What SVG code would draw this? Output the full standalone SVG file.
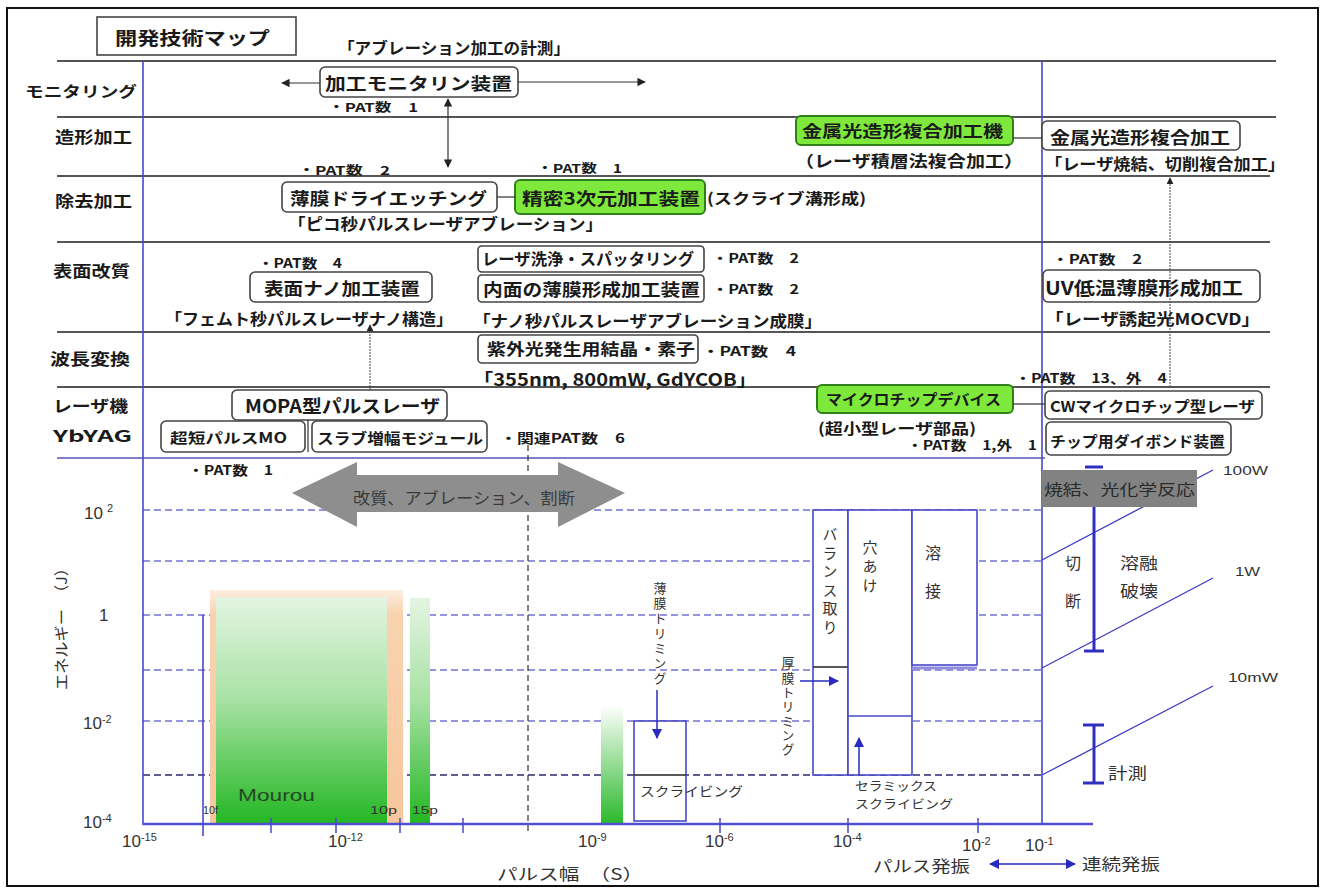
<svg xmlns="http://www.w3.org/2000/svg" width="1326" height="892" viewBox="0 0 1326 892">
<style>
.t{font-family:"Noto Sans CJK JP","Noto Sans CJK SC",sans-serif;font-weight:700;fill:#1a1a1a;dominant-baseline:central}
.n{font-family:"Noto Sans CJK JP","Noto Sans CJK SC",sans-serif;font-weight:400;fill:#333;dominant-baseline:central}
.l{font-family:"Liberation Sans","Noto Sans CJK JP",sans-serif;font-weight:400;fill:#333;dominant-baseline:central}
.ax{font-family:"Liberation Sans",sans-serif;font-weight:400;fill:#333;font-size:17px}
.sup{font-size:11px}
.v{writing-mode:vertical-rl}
.sep{stroke:#555;stroke-width:2}
.box{fill:#fff;stroke:#444;stroke-width:1.6}
.gbox{fill:#7ee83c;stroke:#2f7f1a;stroke-width:2}
.grid{stroke:#7373d3;stroke-width:1.3;stroke-dasharray:7 4}
.blue{stroke:#4848c8;stroke-width:1.6;fill:none}
.bl{stroke:#3a3ac4;stroke-width:1.3;fill:none}
.thin{stroke:#333;stroke-width:1.2;fill:none}
.cb{fill:#fff;stroke:#4848c8;stroke-width:1.6}
</style>
<defs>
<marker id="ah" viewBox="0 0 10 10" refX="9" refY="5" markerWidth="7" markerHeight="7" orient="auto-start-reverse"><path d="M0,0 L10,5 L0,10 z" fill="#222"/></marker>
<marker id="ahb" viewBox="0 0 10 10" refX="9" refY="5" markerWidth="7" markerHeight="7" orient="auto-start-reverse"><path d="M0,0 L10,5 L0,10 z" fill="#2a2ac0"/></marker>
<linearGradient id="gMain" x1="0" y1="0" x2="0" y2="1"><stop offset="0" stop-color="#e4f4e2"/><stop offset="0.45" stop-color="#a8e2a4"/><stop offset="1" stop-color="#22b622"/></linearGradient>
<linearGradient id="gPeach" x1="0" y1="0" x2="0" y2="1"><stop offset="0" stop-color="#fdeee0"/><stop offset="0.1" stop-color="#f9d3b0"/><stop offset="1" stop-color="#f7c69c"/></linearGradient>
<linearGradient id="gBar3" x1="0" y1="0" x2="0" y2="1"><stop offset="0" stop-color="#ffffff"/><stop offset="1" stop-color="#28b828"/></linearGradient>
</defs>
<rect width="1326" height="892" fill="#fff"/>
<rect x="7" y="8" width="1311" height="878" fill="none" stroke="#111" stroke-width="2"/>

<!-- row separators -->
<g id="rows">
<line class="sep" x1="57" y1="61" x2="1276" y2="61"/>
<line class="sep" x1="57" y1="117" x2="1276" y2="117"/>
<line class="sep" x1="57" y1="176" x2="1270" y2="176"/>
<line class="sep" x1="57" y1="242" x2="1270" y2="242"/>
<line class="sep" x1="57" y1="332" x2="1270" y2="332"/>
<line class="sep" x1="57" y1="387" x2="1270" y2="387"/>
<line x1="57" y1="458" x2="1045" y2="458" stroke="#8080c8" stroke-width="2.2"/>
</g>

<g id="title"><rect x="97" y="17" width="199" height="38" fill="#fff" stroke="#444" stroke-width="1.6"/>
<text class="t" x="115" y="37" font-size="18" textLength="155" lengthAdjust="spacingAndGlyphs">開発技術マップ</text></g>

<g id="rowlabels">
<text class="t" x="25" y="90" font-size="15" textLength="112" lengthAdjust="spacingAndGlyphs">モニタリング</text>
<text class="t" x="55" y="136" font-size="16" textLength="77" lengthAdjust="spacingAndGlyphs">造形加工</text>
<text class="t" x="55" y="200" font-size="16" textLength="77" lengthAdjust="spacingAndGlyphs">除去加工</text>
<text class="t" x="53" y="270" font-size="16" textLength="77" lengthAdjust="spacingAndGlyphs">表面改質</text>
<text class="t" x="50" y="358" font-size="16" textLength="80" lengthAdjust="spacingAndGlyphs">波長変換</text>
<text class="t" x="53" y="405" font-size="16" textLength="75" lengthAdjust="spacingAndGlyphs">レーザ機</text>
<text class="t" x="53" y="435" font-size="16" textLength="79" lengthAdjust="spacingAndGlyphs">YbYAG</text>
</g>

<!-- chart grid -->
<g id="grid">
<line class="grid" x1="143" y1="510" x2="1042" y2="510"/>
<line class="grid" x1="143" y1="561" x2="1042" y2="561"/>
<line class="grid" x1="143" y1="615" x2="1042" y2="615"/>
<line class="grid" x1="143" y1="670" x2="1042" y2="670"/>
<line class="grid" x1="143" y1="721" x2="1042" y2="721"/>
<line x1="143" y1="775" x2="1042" y2="775" stroke="#2a2a70" stroke-width="1.3" stroke-dasharray="7 4"/>
<line x1="528" y1="445" x2="528" y2="832" stroke="#333" stroke-width="1.2" stroke-dasharray="6 4"/>
</g>

<!-- bars -->
<g id="bars">
<rect x="210" y="590" width="193" height="235" fill="url(#gPeach)"/>
<rect x="216" y="597" width="171" height="228" fill="url(#gMain)"/>
<rect x="410" y="598" width="20" height="227" fill="url(#gMain)"/>
<rect x="601" y="705" width="22" height="120" fill="url(#gBar3)"/>
<text class="l" x="238" y="795" font-size="17" style="fill:#234a23" textLength="77" lengthAdjust="spacingAndGlyphs">Mourou</text>
<text class="l" x="203" y="810" font-size="11" textLength="15" lengthAdjust="spacingAndGlyphs">10f</text>
<text class="l" x="370" y="810" font-size="11" textLength="27" lengthAdjust="spacingAndGlyphs">10p</text>
<text class="l" x="412" y="810" font-size="11" textLength="26" lengthAdjust="spacingAndGlyphs">15p</text>
</g>

<!-- axes -->
<g id="axes">
<line class="blue" x1="143" y1="61" x2="143" y2="825"/>
<line class="blue" x1="1042" y1="61" x2="1042" y2="825"/>
<line x1="143" y1="824" x2="1093" y2="824" stroke="#5050d0" stroke-width="2.5"/>
<line class="blue" x1="203" y1="615" x2="203" y2="836"/>
<g stroke="#4848c8" stroke-width="1.5">
<line x1="271" y1="818" x2="271" y2="833"/><line x1="336" y1="818" x2="336" y2="833"/><line x1="400" y1="818" x2="400" y2="833"/><line x1="463" y1="818" x2="463" y2="833"/><line x1="720" y1="818" x2="720" y2="833"/><line x1="848" y1="818" x2="848" y2="833"/><line x1="978" y1="818" x2="978" y2="833"/>
</g>
<text class="ax" x="84" y="519">10<tspan class="sup" dx="4" dy="-7">2</tspan></text>
<text class="ax" x="99" y="621">1</text>
<text class="ax" x="83" y="729">10<tspan class="sup" dy="-6">-2</tspan></text>
<text class="ax" x="83" y="828">10<tspan class="sup" dy="-6">-4</tspan></text>
<text class="ax" x="122" y="847">10<tspan class="sup" dy="-6">-15</tspan></text>
<text class="ax" x="328" y="847">10<tspan class="sup" dy="-6">-12</tspan></text>
<text class="ax" x="578" y="847">10<tspan class="sup" dy="-6">-9</tspan></text>
<text class="ax" x="705" y="847">10<tspan class="sup" dy="-6">-6</tspan></text>
<text class="ax" x="833" y="847">10<tspan class="sup" dy="-6">-4</tspan></text>
<text class="ax" x="962" y="851">10<tspan class="sup" dy="-6">-2</tspan></text>
<text class="ax" x="1025" y="851">10<tspan class="sup" dy="-6">-1</tspan></text>
<text class="n" transform="translate(60,690) rotate(-90)" x="0" y="0" font-size="15" textLength="130" lengthAdjust="spacingAndGlyphs">エネルギー　（J）</text>
<text class="n" x="497" y="873" font-size="16" textLength="146" lengthAdjust="spacingAndGlyphs">パルス幅　（S）</text>
<text class="n" x="873" y="865" font-size="16" textLength="97" lengthAdjust="spacingAndGlyphs">パルス発振</text>
<text class="n" x="1082" y="863" font-size="16" textLength="78" lengthAdjust="spacingAndGlyphs">連続発振</text>
</g>

<!-- top nodes -->
<g id="n-abl"><text class="t" x="338" y="47" font-size="16" textLength="232" lengthAdjust="spacingAndGlyphs">「アブレーション加工の計測」</text></g>
<g id="n-mon"><rect class="box" x="320" y="67" width="198" height="30" rx="5"/>
<text class="t" x="325" y="82" font-size="17" textLength="187" lengthAdjust="spacingAndGlyphs">加工モニタリン装置</text>
<text class="t" x="328" y="106" font-size="12" textLength="90" lengthAdjust="spacingAndGlyphs">・PAT数　1</text></g>

<g id="n-dry"><rect class="box" x="282" y="182" width="215" height="30" rx="5"/>
<text class="t" x="290" y="197" font-size="17" textLength="197" lengthAdjust="spacingAndGlyphs">薄膜ドライエッチング</text>
<text class="t" x="298" y="169" font-size="12" textLength="92" lengthAdjust="spacingAndGlyphs">・PAT数　2</text>
<text class="t" x="288" y="223" font-size="16" textLength="315" lengthAdjust="spacingAndGlyphs">「ピコ秒パルスレーザアブレーション」</text></g>

<g id="n-3d"><rect class="gbox" x="515" y="180" width="190" height="34" rx="5"/>
<text class="t" x="522" y="197" font-size="17" textLength="178" lengthAdjust="spacingAndGlyphs">精密3次元加工装置</text>
<text class="t" x="537" y="167" font-size="12" textLength="85" lengthAdjust="spacingAndGlyphs">・PAT数　1</text>
<text class="t" x="707" y="197" font-size="15" textLength="159" lengthAdjust="spacingAndGlyphs">(スクライブ溝形成)</text></g>

<g id="n-metal"><rect class="gbox" x="796" y="116" width="217" height="29" rx="5"/>
<text class="t" x="802" y="130" font-size="16" textLength="201" lengthAdjust="spacingAndGlyphs">金属光造形複合加工機</text>
<text class="t" x="795" y="160" font-size="16" textLength="228" lengthAdjust="spacingAndGlyphs">（レーザ積層法複合加工）</text></g>

<g id="n-metal2"><rect class="box" x="1042" y="121" width="198" height="29" rx="5"/>
<text class="t" x="1050" y="136" font-size="17" textLength="180" lengthAdjust="spacingAndGlyphs">金属光造形複合加工</text>
<text class="t" x="1045" y="163" font-size="16" textLength="240" lengthAdjust="spacingAndGlyphs">「レーザ焼結、切削複合加工」</text></g>

<g id="n-nano"><rect class="box" x="250" y="272" width="182" height="30" rx="5"/>
<text class="t" x="264" y="287" font-size="17" textLength="156" lengthAdjust="spacingAndGlyphs">表面ナノ加工装置</text>
<text class="t" x="258" y="262" font-size="13" textLength="84" lengthAdjust="spacingAndGlyphs">・PAT数　4</text>
<text class="t" x="165" y="318" font-size="16" textLength="288" lengthAdjust="spacingAndGlyphs">「フェムト秒パルスレーザナノ構造」</text></g>

<g id="n-clean"><rect class="box" x="478" y="246" width="226" height="26" rx="4"/>
<text class="t" x="482" y="258" font-size="16" textLength="212" lengthAdjust="spacingAndGlyphs">レーザ洗浄・スパッタリング</text>
<text class="t" x="712" y="257" font-size="13" textLength="87" lengthAdjust="spacingAndGlyphs">・PAT数　2</text></g>

<g id="n-inner"><rect class="box" x="478" y="275" width="226" height="27" rx="4"/>
<text class="t" x="483" y="288" font-size="17" textLength="217" lengthAdjust="spacingAndGlyphs">内面の薄膜形成加工装置</text>
<text class="t" x="712" y="288" font-size="13" textLength="87" lengthAdjust="spacingAndGlyphs">・PAT数　2</text>
<text class="t" x="473" y="320" font-size="16" textLength="349" lengthAdjust="spacingAndGlyphs">「ナノ秒パルスレーザアブレーション成膜」</text></g>

<g id="n-uv"><rect class="box" x="478" y="335" width="220" height="28" rx="4"/>
<text class="t" x="487" y="348" font-size="16" textLength="208" lengthAdjust="spacingAndGlyphs">紫外光発生用結晶・素子</text>
<text class="t" x="702" y="350" font-size="13" textLength="94" lengthAdjust="spacingAndGlyphs">・PAT数　4</text>
<text class="t" x="473" y="378" font-size="17" textLength="284" lengthAdjust="spacingAndGlyphs">「355nm, 800mW, GdYCOB」</text></g>

<g id="n-uvlow"><rect class="box" x="1043" y="270" width="217" height="32" rx="5"/>
<text class="t" x="1045" y="287" font-size="18" textLength="198" lengthAdjust="spacingAndGlyphs">UV低温薄膜形成加工</text>
<text class="t" x="1052" y="258" font-size="13" textLength="90" lengthAdjust="spacingAndGlyphs">・PAT数　2</text>
<text class="t" x="1045" y="318" font-size="16" textLength="215" lengthAdjust="spacingAndGlyphs">「レーザ誘起光MOCVD」</text></g>

<g id="n-mopa"><rect class="box" x="232" y="390" width="215" height="30" rx="5"/>
<text class="t" x="245" y="405" font-size="18" textLength="195" lengthAdjust="spacingAndGlyphs">MOPA型パルスレーザ</text></g>
<g id="n-mo"><rect class="box" x="161" y="421" width="144" height="31" rx="5"/>
<text class="t" x="170" y="437" font-size="14" textLength="117" lengthAdjust="spacingAndGlyphs">超短パルスMO</text>
<text class="t" x="188" y="469" font-size="13" textLength="85" lengthAdjust="spacingAndGlyphs">・PAT数　1</text></g>
<g id="n-slab"><rect class="box" x="312" y="421" width="175" height="31" rx="5"/>
<text class="t" x="317" y="437" font-size="15" textLength="166" lengthAdjust="spacingAndGlyphs">スラブ増幅モジュール</text>
<text class="t" x="500" y="437" font-size="13" textLength="125" lengthAdjust="spacingAndGlyphs">・関連PAT数　6</text></g>

<g id="n-micro"><rect class="gbox" x="817" y="385" width="196" height="28" rx="5"/>
<text class="t" x="826" y="398" font-size="15" textLength="175" lengthAdjust="spacingAndGlyphs">マイクロチップデバイス</text>
<text class="t" x="818" y="427" font-size="15" textLength="158" lengthAdjust="spacingAndGlyphs">(超小型レーザ部品)</text>
<text class="t" x="907" y="444" font-size="13" textLength="130" lengthAdjust="spacingAndGlyphs">・PAT数　1,外　1</text>
<text class="t" x="1015" y="377" font-size="13" textLength="152" lengthAdjust="spacingAndGlyphs">・PAT数　13、外　4</text></g>

<g id="n-cw"><rect class="box" x="1045" y="391" width="217" height="28" rx="5"/>
<text class="t" x="1050" y="405" font-size="15" textLength="205" lengthAdjust="spacingAndGlyphs">CWマイクロチップ型レーザ</text></g>
<g id="n-bond"><rect class="box" x="1046" y="422" width="185" height="33" rx="5"/>
<text class="t" x="1050" y="440" font-size="15" textLength="175" lengthAdjust="spacingAndGlyphs">チップ用ダイボンド装置</text></g>

<!-- chart nodes -->
<g id="n-arrow">
<polygon points="292,493 357,462 357,475 558,475 558,462 625,493 558,527 558,512 357,512 357,527" fill="#8e8e8e"/>
<text class="n" x="353" y="497" font-size="16" textLength="222" lengthAdjust="spacingAndGlyphs" style="fill:#3a3a3a">改質、アブレーション、割断</text>
</g>

<g id="n-scribe"><rect class="cb" x="634" y="721" width="52" height="100"/>
<line x1="634" y1="775" x2="686" y2="775" stroke="#222" stroke-width="1.3"/>
<text class="n" x="640" y="790" font-size="13" textLength="103" lengthAdjust="spacingAndGlyphs">スクライビング</text>
<text class="n v" x="660" y="582" font-size="13" letter-spacing="2">薄膜トリミング</text></g>

<g id="n-balance"><rect class="cb" x="813" y="510" width="35" height="265"/>
<line x1="813" y1="667" x2="848" y2="667" stroke="#222" stroke-width="1.3"/>
<text class="n v" x="830" y="527" font-size="15" letter-spacing="3.5">バランス取り</text>
<text class="n v" x="788" y="657" font-size="13" letter-spacing="1.3">厚膜トリミング</text></g>

<g id="n-hole"><rect class="cb" x="848" y="510" width="64" height="265"/>
<line x1="848" y1="716" x2="912" y2="716" stroke="#4848c8" stroke-width="1.4"/>
<text class="n v" x="870" y="540" font-size="15" letter-spacing="4">穴あけ</text>
<text class="n" x="855" y="785" font-size="12" textLength="82" lengthAdjust="spacingAndGlyphs">セラミックス</text>
<text class="n" x="855" y="803" font-size="12" textLength="98" lengthAdjust="spacingAndGlyphs">スクライビング</text></g>

<g id="n-weld"><rect class="cb" x="912" y="510" width="65" height="155"/>
<line x1="912" y1="668" x2="977" y2="668" stroke="#8f8fe0" stroke-width="3"/>
<text class="n" x="933" y="552" font-size="16" text-anchor="middle">溶</text>
<text class="n" x="933" y="590" font-size="16" text-anchor="middle">接</text></g>

<g id="n-power">
<line class="bl" x1="1042" y1="560" x2="1213" y2="470"/>
<line class="bl" x1="1042" y1="668" x2="1213" y2="578"/>
<line class="bl" x1="1042" y1="775" x2="1213" y2="686"/>
<rect x="1042" y="470" width="155" height="37" fill="#828282"/>
<text class="n" x="1044" y="488" font-size="15" textLength="151" lengthAdjust="spacingAndGlyphs" style="fill:#2a2a2a">焼結、光化学反応</text>
<text class="l" x="1223" y="470" font-size="13" textLength="45" lengthAdjust="spacingAndGlyphs">100W</text>
<text class="l" x="1235" y="572" font-size="12" textLength="25" lengthAdjust="spacingAndGlyphs">1W</text>
<text class="l" x="1228" y="678" font-size="12" textLength="50" lengthAdjust="spacingAndGlyphs">10mW</text>
<g stroke="#3030c0" stroke-width="3">
<line x1="1094" y1="507" x2="1094" y2="651"/>
<line x1="1085" y1="467" x2="1103" y2="467"/>
<line x1="1084" y1="651" x2="1104" y2="651"/>
<line x1="1094" y1="725" x2="1094" y2="783"/>
<line x1="1083" y1="725" x2="1104" y2="725"/>
<line x1="1083" y1="783" x2="1104" y2="783"/>
</g>
<text class="n" x="1073" y="562" font-size="16" text-anchor="middle">切</text>
<text class="n" x="1073" y="600" font-size="16" text-anchor="middle">断</text>
<text class="n" x="1120" y="562" font-size="16" textLength="38" lengthAdjust="spacingAndGlyphs">溶融</text>
<text class="n" x="1120" y="590" font-size="16" textLength="38" lengthAdjust="spacingAndGlyphs">破壊</text>
<text class="n" x="1108" y="772" font-size="16" textLength="39" lengthAdjust="spacingAndGlyphs">計測</text>
</g>

<!-- connectors -->
<g id="connectors">
<line class="thin" x1="320" y1="83" x2="282" y2="83" marker-end="url(#ah)"/>
<line class="thin" x1="518" y1="82" x2="645" y2="82" marker-end="url(#ah)"/>
<line class="thin" x1="448" y1="99" x2="448" y2="167" marker-start="url(#ah)" marker-end="url(#ah)"/>
<line class="thin" x1="497" y1="197" x2="515" y2="197" stroke-width="2"/>
<line class="thin" x1="1013" y1="138" x2="1042" y2="138" stroke-width="2"/>
<line class="thin" x1="1013" y1="404" x2="1045" y2="404" stroke-width="2"/>
<line class="thin" x1="308" y1="420" x2="308" y2="452"/>
<line x1="370" y1="390" x2="370" y2="325" stroke="#444" stroke-width="1" stroke-dasharray="2 1" marker-end="url(#ah)"/>
<line x1="1170" y1="387" x2="1170" y2="178" stroke="#444" stroke-width="1" stroke-dasharray="2 1" marker-end="url(#ah)"/>
<line x1="657" y1="690" x2="657" y2="738" stroke="#2a2ac0" stroke-width="1.5" marker-end="url(#ahb)"/>
<line x1="800" y1="681" x2="838" y2="681" stroke="#2a2ac0" stroke-width="1.5" marker-end="url(#ahb)"/>
<line x1="859" y1="775" x2="859" y2="738" stroke="#2a2ac0" stroke-width="1.5" marker-end="url(#ahb)"/>
<line x1="990" y1="864" x2="1075" y2="864" stroke="#2a2ac0" stroke-width="1.5" marker-start="url(#ahb)" marker-end="url(#ahb)"/>
</g>
</svg>
